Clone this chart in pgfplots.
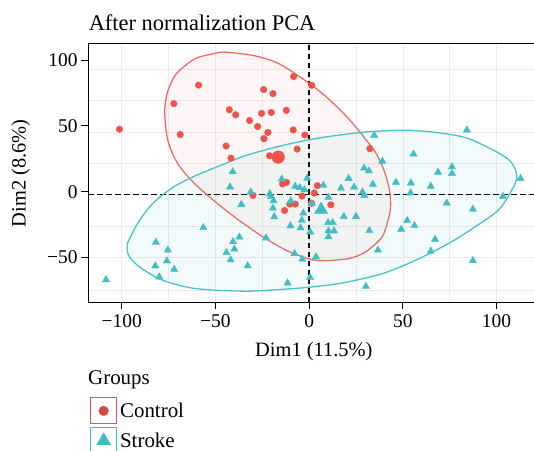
\documentclass[border=0pt]{standalone}
\usepackage{pgfplots}
\pgfplotsset{compat=1.18}
\usepackage{fontspec}
\setmainfont{Liberation Serif}

\definecolor{ctrl}{RGB}{238,82,72}
\definecolor{ctrledge}{RGB}{240,108,98}
\definecolor{strk}{RGB}{64,190,196}
\definecolor{strkedge}{RGB}{70,196,202}
\definecolor{gridc}{RGB}{236,236,236}

\begin{document}
\begin{tikzpicture}[x=1bp,y=1bp]
\useasboundingbox (0,0) rectangle (534,451);
\begin{axis}[
  at={(88bp,408bp)}, anchor=north west,
  width=446bp, height=259.5bp, scale only axis,
  xmin=-118, xmax=120, ymin=-84.2, ymax=113,
  axis line style={line width=0.9bp, black},
  tick align=outside, tick pos=left,
  major tick length=7bp, minor tick length=0pt,
  every tick/.style={black, line width=0.9bp},
  xtick={-100,-50,0,50,100},
  xticklabels={−100,−50,0,50,100},
  ytick={-50,0,50,100},
  yticklabels={−50,0,50,100},
  minor xtick={-100,-75,-50,-25,0,25,50,75,100},
  minor ytick={-74.6,-50.2,-26,-2.2,21.6,45.4,69.2,93.2},
  xminorgrids=true, yminorgrids=true,
  minor grid style={gridc, line width=0.6bp},
  tick label style={font=\fontsize{19.5}{22}\selectfont},
  xticklabel style={yshift=-2bp},
  legend style={at={(axis description cs:0.0045,-0.365)}, anchor=north west,
    draw=none, fill=none, inner sep=0pt, row sep=3bp,
    font=\fontsize{21}{24}\selectfont, nodes={inner sep=3bp},
    cells={anchor=west}},
  clip=true,
]
% reference lines through the origin
\addplot[forget plot, black, line width=1.8bp, dash pattern=on 5.5bp off 3.5bp]
  coordinates {(-118,-2.2) (120,-2.2)};
\addplot[forget plot, black, line width=1.8bp, dash pattern=on 5.5bp off 3.5bp]
  coordinates {(0,-84.2) (0,113)};

% individuals, Control group
\addplot[only marks, mark=*, mark size=3.3bp, color=ctrl,
  legend image code/.code={
    \draw[ctrl, line width=0.9bp, fill=white] (0bp,-13bp) rectangle (26bp,13bp);
    \fill[ctrl!90!black] (13bp,0bp) circle (4.8bp);}]
  table {
x y
-101.2 47.5
-72.2 66.9
-68.8 43.4
-59.0 81.0
-44.3 34.7
-42.6 62.3
-41.7 25.5
-39.2 58.4
-31.8 54.1
-30.0 -2.8
-27.5 49.5
-25.4 59.5
-24.3 77.6
-24.1 40.3
-22.0 45.0
-21.1 27.3
-20.2 60.2
-19.3 74.5
-14.2 5.9
-13.1 -14.3
-12.2 61.8
-12.1 7.1
-10.3 -9.4
-8.5 46.9
-8.3 87.5
-7.4 -9.4
-6.4 32.4
-3.8 -3.3
-2.3 43.1
1.2 -8.7
1.4 80.9
2.7 -1.0
4.4 4.6
11.6 -10.0
32.4 32.7
};
\addlegendentry{Control}

% individuals, Stroke group
\addplot[only marks, mark=triangle*, mark size=4.2bp, color=strk,
  legend image code/.code={
    \draw[strk, line width=0.9bp, fill=white] (0bp,-13bp) rectangle (26bp,13bp);
    \fill[strk] (13bp,0bp) ++(90:8bp) -- ++(-120:13.9bp) -- ++(0:13.9bp) -- cycle;}]
  table {
x y
-108.4 -66.9
-82.1 -56.4
-81.8 -38.5
-80.0 -64.8
-75.9 -52.6
-75.4 -44.4
-72.0 -59.0
-56.5 -27.3
-44.1 -46.2
-42.2 3.6
-41.9 -51.8
-40.8 15.1
-40.6 -38.0
-39.9 -43.6
-37.2 -34.5
-36.2 -9.7
-32.8 -56.4
-31.2 -0.3
-23.0 -35.2
-21.0 -1.5
-20.4 -3.6
-19.3 -12.5
-19.0 -6.9
-18.6 -19.1
-14.6 9.6
-11.5 -69.4
-10.0 -26.0
-9.8 -6.9
-7.8 -47.0
-7.4 4.1
-5.0 3.0
-4.6 -27.5
-3.9 -21.8
-3.7 -51.3
-3.1 -16.3
-2.5 1.5
-1.0 10.2
0.5 -65.3
0.6 -30.6
1.4 -9.2
3.7 -49.5
7.6 4.8
10.1 -23.5
10.3 -4.3
10.3 -29.8
10.3 -34.2
12.6 -23.5
13.3 -29.8
17.0 2.7
18.5 -18.9
21.1 10.0
24.0 3.5
25.0 -18.9
28.5 -0.2
29.3 17.9
29.4 -3.0
30.3 -72.0
31.9 15.8
32.1 -29.6
34.0 5.6
34.7 42.9
36.7 -44.4
39.1 23.1
46.3 7.1
49.1 -28.6
52.3 -22.0
54.1 -1.0
54.3 6.6
55.7 28.6
56.2 -25.8
64.9 -45.2
64.9 4.1
67.2 -36.2
68.8 14.8
73.4 -8.7
76.2 18.9
76.2 13.8
84.2 46.9
87.4 -13.3
87.4 -52.3
103.4 -3.6
112.8 10.0
};
\addlegendentry{Stroke}

% group centres
\addplot[forget plot, only marks, mark=*, mark size=6.3bp, color=ctrl]
  coordinates {(-16.5,26.3)};
\addplot[forget plot, only marks, mark=triangle*, mark size=7.7bp, color=strk]
  coordinates {(6.4,-13.8)};

% concentration ellipses
\addplot[forget plot, smooth, draw=ctrledge, line width=1.3bp, fill=ctrl, fill opacity=0.05]
  coordinates {
(-46.1,106.2) (-30.2,103.6) (-16,97.2) (1.4,80.9) (12.4,67.9) (21.3,55.1)
(30.2,39.8) (35.5,29.6) (39.5,18) (42.5,4) (43.5,-8.7) (42.6,-18.9)
(39,-34.2) (30.2,-45.7) (21.3,-50.8) (8,-52.4) (0,-51.2) (-12.4,-44.4)
(-24.8,-34.2) (-39,-20.1) (-51.4,-6.1) (-62.1,7.5) (-70,21) (-74.6,35)
(-76.5,48) (-77,62.8) (-75.5,76) (-70.9,89.5) (-60.3,101.4) (-46.1,106.2)
  } -- cycle;
\addplot[forget plot, smooth, draw=strkedge, line width=1.3bp, fill=strk, fill opacity=0.07]
  coordinates {
(-97,-39.3) (-91.5,-24) (-83.5,-9) (-73,3) (-62.1,11.2) (-49,19)
(-33.7,27.5) (-16,34.5) (0,39.5) (12.4,42.3) (30.2,45.4) (49.6,46.7)
(65.6,45.4) (83.4,41.1) (97.5,32.2) (106.4,24.5) (110,17) (110.8,10)
(108.1,1) (101.1,-13.8) (88.7,-26.6) (74.5,-39.3) (56.8,-52.1) (39,-62.3)
(17.7,-69.4) (0,-72.6) (-12.4,-74) (-33.7,-75.6) (-60.3,-73.7) (-78,-67.4)
(-90.5,-57.2) (-96.5,-48) (-97,-39.3)
  } -- cycle;
\end{axis}

% titles and labels
\node[anchor=base west, inner sep=0pt, font=\fontsize{22.5}{26}\selectfont]
  at (88.6,420.3) {After normalization PCA};
\node[anchor=base, inner sep=0pt, font=\fontsize{20.5}{24}\selectfont]
  at (313.8,94.7) {Dim1 (11.5\%)};
\node[anchor=base, rotate=90, inner sep=0pt, font=\fontsize{20.5}{24}\selectfont]
  at (25.5,277.7) {Dim2 (8.6\%)};
\node[anchor=base west, inner sep=0pt, font=\fontsize{21}{24}\selectfont]
  at (88,66.6) {Groups};
\end{tikzpicture}
\end{document}
